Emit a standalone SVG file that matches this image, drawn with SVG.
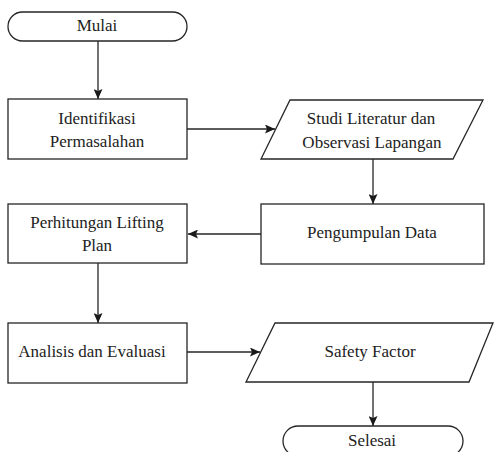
<svg xmlns="http://www.w3.org/2000/svg" width="494" height="452" viewBox="0 0 494 452">
<style>
.s{fill:#fff;stroke:#262626;stroke-width:1.3}
.t{font-family:'Liberation Serif','DejaVu Serif',serif;font-size:17px;fill:#222;text-anchor:middle}
.c{fill:none;stroke:#262626;stroke-width:1.3}
</style>
<defs>
<marker id="ah" markerUnits="userSpaceOnUse" markerWidth="11" markerHeight="9" refX="10" refY="4.5" orient="auto">
<path d="M0,0 L10,4.5 L0,9 L2,4.5 z" fill="#1a1a1a"/>
</marker>
</defs>
<rect width="494" height="452" fill="#fff"/>
<g id="connectors">
<line class="c" x1="98" y1="41" x2="98" y2="99" marker-end="url(#ah)"/>
<line class="c" x1="187" y1="129" x2="275" y2="129" marker-end="url(#ah)"/>
<line class="c" x1="373" y1="159" x2="373" y2="204" marker-end="url(#ah)"/>
<line class="c" x1="261" y1="234" x2="188" y2="234" marker-end="url(#ah)"/>
<line class="c" x1="98" y1="263" x2="98" y2="323" marker-end="url(#ah)"/>
<line class="c" x1="187" y1="352" x2="260" y2="352" marker-end="url(#ah)"/>
<line class="c" x1="373" y1="382" x2="373" y2="426" marker-end="url(#ah)"/>
</g>
<g id="mulai">
<rect class="s" x="8" y="12" width="179" height="29" rx="14.5" ry="14.5"/>
<text class="t" x="97" y="31" font-family="Liberation Serif, serif">Mulai</text>
</g>
<g id="identifikasi">
<rect class="s" x="8" y="99" width="179" height="60"/>
<text class="t" x="97" y="124">Identifikasi</text>
<text class="t" x="97" y="147">Permasalahan</text>
</g>
<g id="studi">
<polygon class="s" points="290,100 483,100 453,159 261,159"/>
<text class="t" x="371" y="124">Studi Literatur dan</text>
<text class="t" x="372" y="148">Observasi Lapangan</text>
</g>
<g id="pengumpulan">
<rect class="s" x="261" y="204" width="223" height="60"/>
<text class="t" x="372" y="238">Pengumpulan Data</text>
</g>
<g id="perhitungan">
<rect class="s" x="8" y="204" width="179" height="59"/>
<text class="t" x="97" y="228">Perhitungan Lifting</text>
<text class="t" x="97" y="251">Plan</text>
</g>
<g id="analisis">
<rect class="s" x="8" y="323" width="179" height="60"/>
<text class="t" x="92" y="357">Analisis dan Evaluasi</text>
</g>
<g id="safety">
<polygon class="s" points="275,323 493,323 469,382 246,382"/>
<text class="t" x="370" y="357">Safety Factor</text>
</g>
<g id="selesai">
<rect class="s" x="283" y="426" width="180" height="30" rx="15" ry="15"/>
<text class="t" x="372" y="446">Selesai</text>
</g>
</svg>
